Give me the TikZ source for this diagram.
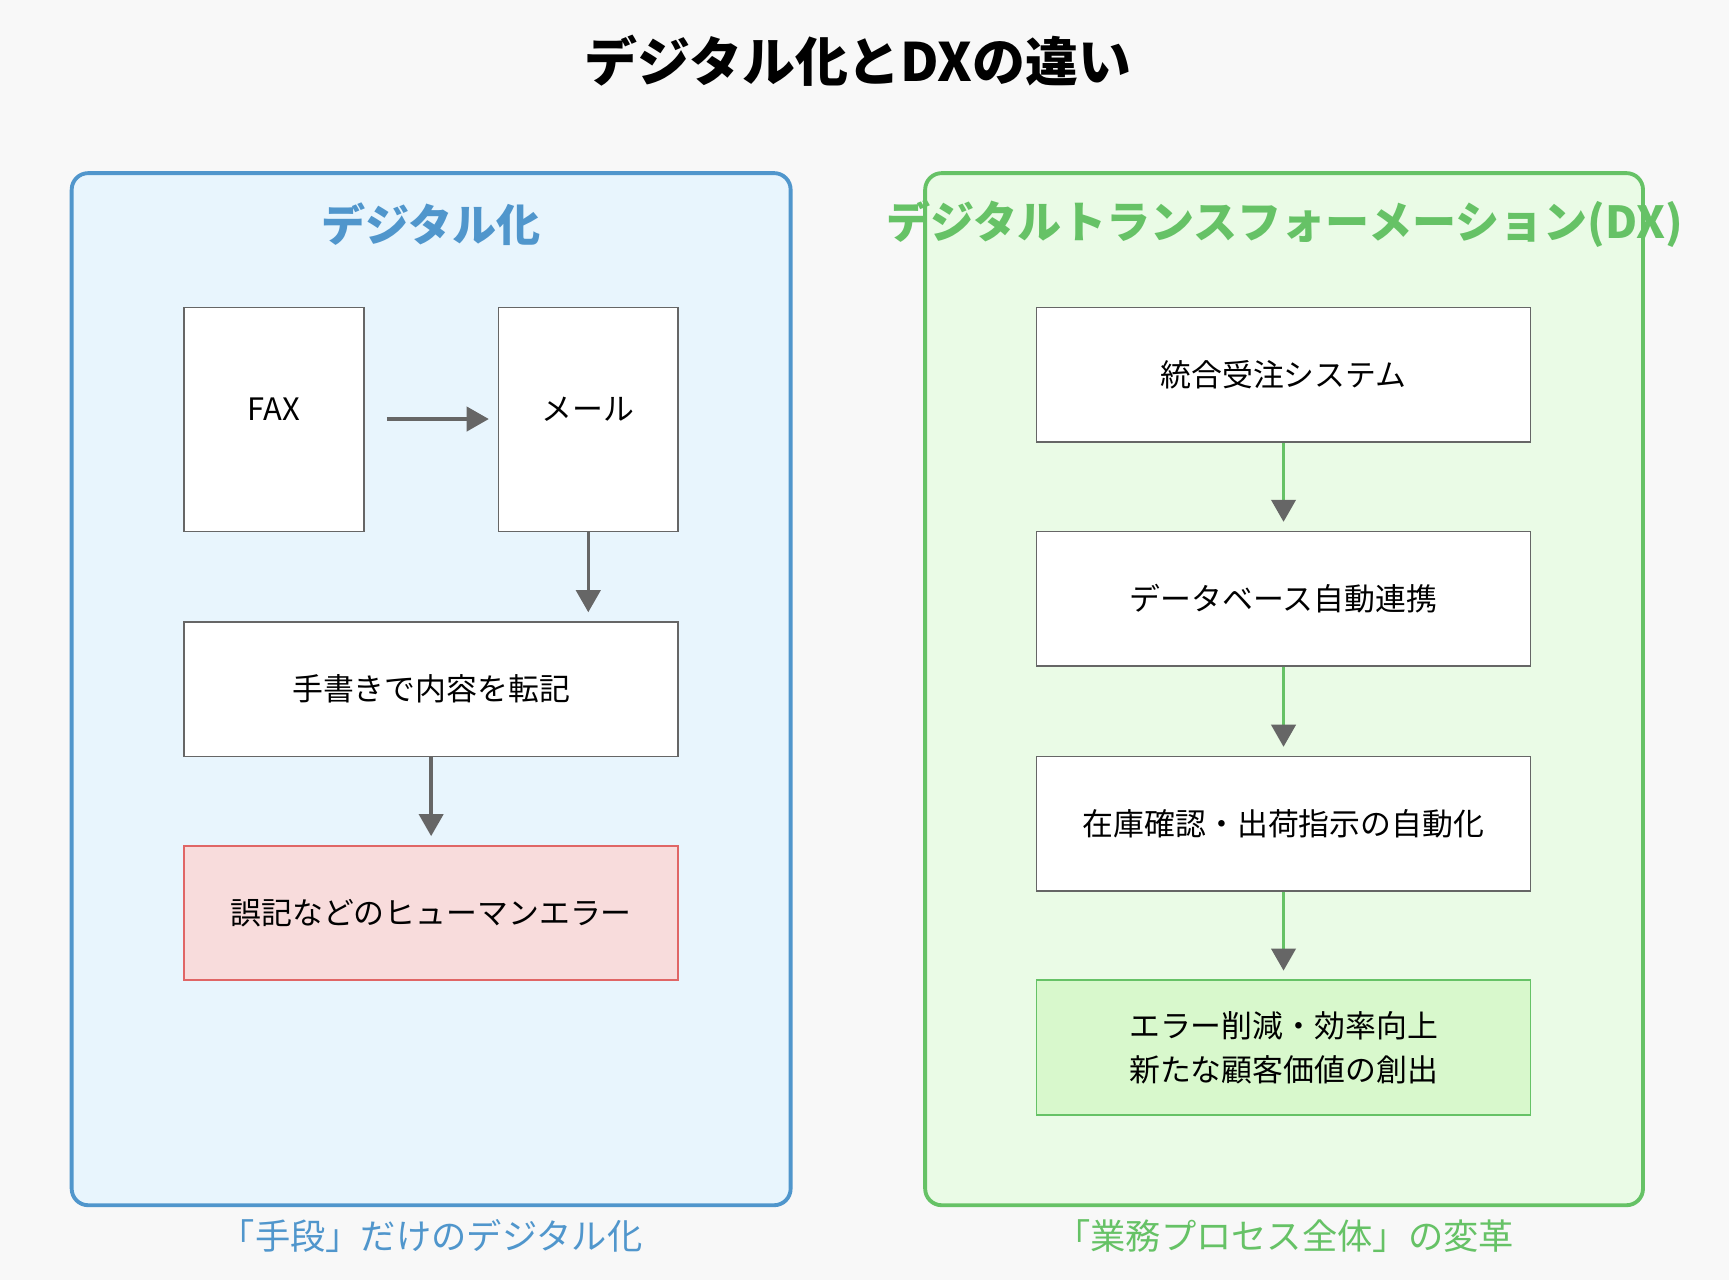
\documentclass[tikz,border=0pt]{standalone}
\usepackage{fontspec}
\setmainfont{Noto Sans CJK JP}
\usetikzlibrary{arrows.meta}
\definecolor{bg}{HTML}{F8F8F8}
\definecolor{bl}{HTML}{5096CC}
\definecolor{blf}{HTML}{E8F5FD}
\definecolor{gr}{HTML}{66C266}
\definecolor{grf}{HTML}{EAFBE6}
\definecolor{grb}{HTML}{D8F8CC}
\definecolor{rdf}{HTML}{F8DCDC}
\definecolor{rd}{HTML}{E06666}
\definecolor{gy}{HTML}{666666}
\begin{document}
\begin{tikzpicture}[x=1pt,y=-1pt,
 box/.style={draw=gy,line width=1.5pt,fill=white,font=\fontsize{28}{34}\selectfont,align=center},
 lbl/.style={font=\fontsize{28}{34}\selectfont},
 arr/.style={draw=gy,line width=3pt,-{Triangle[length=20pt,width=22pt,color=gy]}},
 garr/.style={draw=gr,line width=3pt,-{Triangle[length=20pt,width=22pt,color=gy]}},
 panel/.style={line width=3.5pt,rounded corners=15pt}]
\fill[bg] (0,0) rectangle (1568,1161);
\useasboundingbox (0,0) rectangle (1568,1161);
\node[font=\fontsize{48}{54}\selectfont\bfseries] (t) at (778,55) {デジタル化とDXの違い};
\draw[panel,draw=bl,fill=blf] (65,157) rectangle (717,1093);
\draw[panel,draw=gr,fill=grf] (839,157) rectangle (1490,1093);
\node[text=bl,font=\fontsize{40}{46}\selectfont\bfseries] (lh) at (391,203) {デジタル化};
\node[text=gr,font=\fontsize{40}{46}\selectfont\bfseries] (rh) at (1165,203) {デジタルトランスフォーメーション(DX)};
\node[box,minimum width=163pt,minimum height=203pt] (fax) at (248.5,380.5) {};
\node[box,minimum width=163pt,minimum height=203pt] (mail) at (533.5,380.5) {};
\node[lbl] (faxt) at (248.5,371) {FAX};
\node[lbl] (mailt) at (533.5,371) {メール};
\node[box,minimum width=448pt,minimum height=122pt] (hand) at (391,625) {手書きで内容を転記};
\node[box,draw=rd,fill=rdf,minimum width=448pt,minimum height=122pt] (err) at (391,828) {誤記などのヒューマンエラー};
\draw[arr] ([xshift=20pt]fax.east|-0,380) -- ([xshift=-8pt]mail.west|-0,380);
\draw[arr] (mail.south) -- ([yshift=8pt]hand.north-|mail.south);
\draw[arr] (hand.south) -- ([yshift=8pt]err.north);
\node[box,minimum width=448pt,minimum height=122pt] (r1) at (1164,340) {統合受注システム};
\node[box,minimum width=448pt,minimum height=122pt] (r2) at (1164,543) {データベース自動連携};
\node[box,minimum width=448pt,minimum height=122pt] (r3) at (1164,747) {在庫確認・出荷指示の自動化};
\node[box,draw=gr,fill=grb,minimum width=448pt,minimum height=122pt,font=\fontsize{28}{40}\selectfont] (r4) at (1164,950) {エラー削減・効率向上\\新たな顧客価値の創出};
\draw[garr] (r1.south) -- ([yshift=8pt]r2.north);
\draw[garr] (r2.south) -- ([yshift=8pt]r3.north);
\draw[garr] (r3.south) -- ([yshift=8pt]r4.north);
\node[text=bl,font=\fontsize{32}{38}\selectfont] (lc) at (391,1121) {「手段」だけのデジタル化};
\node[text=gr,font=\fontsize{32}{38}\selectfont] (rc) at (1165,1121) {「業務プロセス全体」の変革};
\end{tikzpicture}
\end{document}
